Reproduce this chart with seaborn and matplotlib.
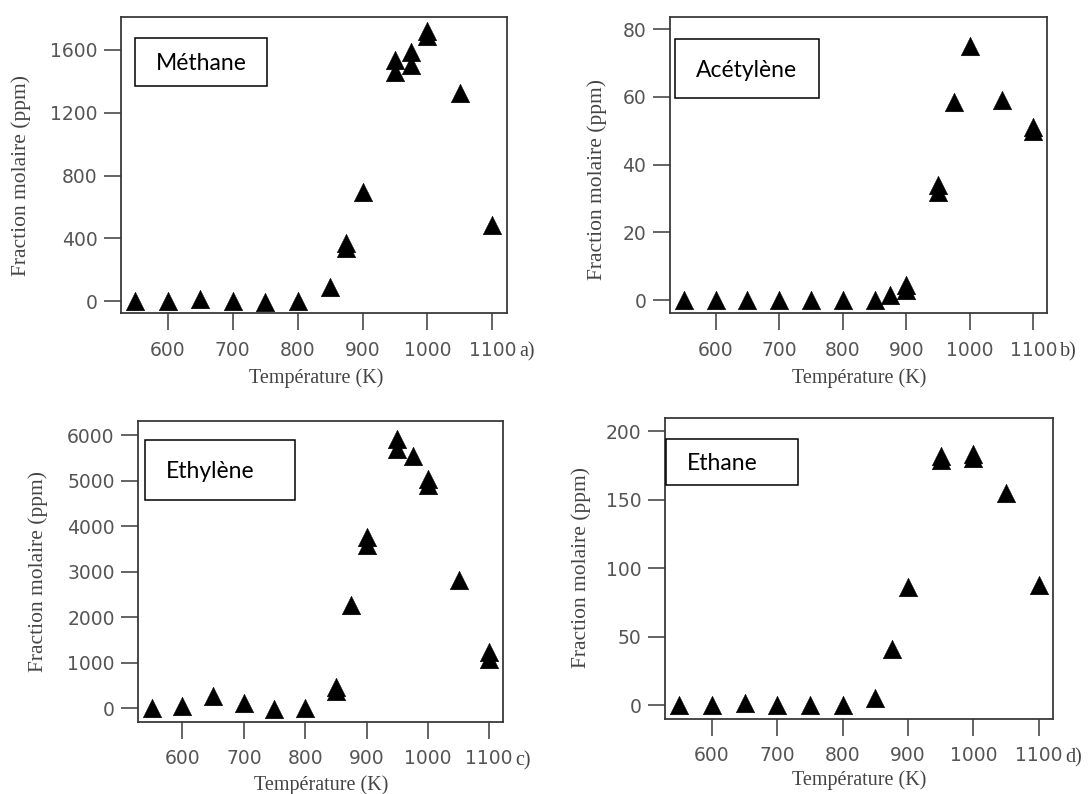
"""Mole fractions of light hydrocarbons versus temperature, four panels."""

import matplotlib

matplotlib.use("Agg")
import matplotlib.patches as mpatches
import matplotlib.pyplot as plt
import pandas as pd
import seaborn as sns

FIG_W, FIG_H = 1089, 794

# --- data ------------------------------------------------------------------
x_ticks = [600, 700, 800, 900, 1000, 1100]

temp_methane = [550, 600, 650, 700, 750, 800, 850, 875, 875, 900, 950, 950, 975, 975, 1000, 1000, 1050, 1100]
methane_ppm = [0, 0, 15, 0, -5, 0, 87, 335, 370, 697, 1461, 1536, 1504, 1589, 1690, 1720, 1328, 484]
methane_ticks = [0, 400, 800, 1200, 1600]

temp_acetylene = [550, 600, 650, 700, 750, 800, 850, 875, 900, 900, 950, 950, 975, 1000, 1050, 1100, 1100]
acetylene_ppm = [0, 0, 0, 0, 0, 0, 0, 1.5, 3, 4.5, 32, 34, 58.6, 75, 59, 50, 51]
acetylene_ticks = [0, 20, 40, 60, 80]

temp_ethylene = [550, 600, 650, 700, 750, 800, 850, 850, 875, 900, 900, 950, 950, 975, 1000, 1000, 1050, 1100, 1100]
ethylene_ppm = [0, 50, 270, 120, -20, 0, 380, 460, 2264, 3582, 3765, 5705, 5925, 5538, 4900, 5046, 2826, 1090, 1237]
ethylene_ticks = [0, 1000, 2000, 3000, 4000, 5000, 6000]

temp_ethane = [550, 600, 650, 700, 750, 800, 850, 875, 900, 950, 950, 1000, 1000, 1050, 1100]
ethane_ppm = [0, 0, 1.5, 0, 0, 0, 5, 41, 86, 179, 182, 180, 183, 155, 88]
ethane_ticks = [0, 50, 100, 150, 200]

species = ["Méthane", "Acétylène", "Ethylène", "Ethane"]
letters = ["a", "b", "c", "d"]

# --- layout (pixels in the 1089x794 picture) -------------------------------
panels = [
    dict(temps=temp_methane, ppm=methane_ppm, ticks=methane_ticks, ylim=(-76, 1810),
         frame=(121, 17, 506.7, 313), box=(135, 38.3, 266.6, 85.7),
         ylab=(21, 175), xlab=(316, 378)),
    dict(temps=temp_acetylene, ppm=acetylene_ppm, ticks=acetylene_ticks, ylim=(-3.9, 83.6),
         frame=(670, 17, 1047.3, 313.3), box=(674.6, 39, 818.5, 97.7),
         ylab=(597, 180), xlab=(859.6, 378)),
    dict(temps=temp_ethylene, ppm=ethylene_ppm, ticks=ethylene_ticks, ylim=(-290, 6314),
         frame=(138.3, 421, 502.7, 721.5), box=(145.3, 440.3, 294.8, 499.7),
         ylab=(38, 572), xlab=(321, 785)),
    dict(temps=temp_ethane, ppm=ethane_ppm, ticks=ethane_ticks, ylim=(-9.8, 209.7),
         frame=(665, 417.7, 1053, 718.7), box=(666, 438.7, 797.7, 485.3),
         ylab=(581.5, 568), xlab=(858.7, 780)),
]

sns.set_theme(style="white")
plt.rcParams["font.family"] = ["DejaVu Sans"]

TICK_GREY = "#555555"
LABEL_GREY = "#444444"
SPINE_GREY = "#3a3a3a"


def px_rect(left, top, right, bottom):
    return [left / FIG_W, 1 - bottom / FIG_H, (right - left) / FIG_W, (bottom - top) / FIG_H]


fig = plt.figure(figsize=(FIG_W / 100, FIG_H / 100), dpi=100)
fig.patch.set_facecolor("white")

for name, letter, panel in zip(species, letters, panels):
    left, top, right, bottom = panel["frame"]
    ax = fig.add_axes(px_rect(left, top, right, bottom))
    df = pd.DataFrame({"temperature": panel["temps"], "ppm": panel["ppm"]})
    sns.scatterplot(data=df, x="temperature", y="ppm", marker="^", s=180,
                    color="black", edgecolor="black", linewidth=0.3, ax=ax, zorder=3)

    ax.set_xlim(528, 1122)
    ax.set_ylim(*panel["ylim"])
    ax.set_xticks(x_ticks)
    ax.set_yticks(panel["ticks"])
    ax.set_xticklabels([str(t) for t in x_ticks])
    ax.set_yticklabels([str(t) for t in panel["ticks"]])

    for spine in ax.spines.values():
        spine.set_color(SPINE_GREY)
        spine.set_linewidth(1.3)
    ax.tick_params(axis="both", direction="out", length=12, width=1.1, color=SPINE_GREY,
                   labelcolor=TICK_GREY, labelsize=13.5, left=True, bottom=True)
    ax.tick_params(axis="x", pad=8)
    ax.tick_params(axis="y", pad=5)

    width_px, height_px = right - left, bottom - top
    ax.set_xlabel("Température (K)", family="Liberation Serif", fontsize=14.5, color=LABEL_GREY)
    ax.set_ylabel("Fraction molaire (ppm)", family="Liberation Serif", fontsize=15.5, color=LABEL_GREY)
    ax.xaxis.label.set(va="center", ha="center")
    ax.yaxis.label.set(va="center", ha="center")
    ax.xaxis.set_label_coords((panel["xlab"][0] - left) / width_px, (bottom - panel["xlab"][1]) / height_px)
    ax.yaxis.set_label_coords((panel["ylab"][0] - left) / width_px, (bottom - panel["ylab"][1]) / height_px)

    ax.annotate(f"{letter})", xy=(1100, 0), xycoords=ax.get_xaxis_transform(),
                xytext=(19, -28), textcoords="offset points", ha="left", va="center",
                family="Liberation Serif", fontsize=14.5, color=LABEL_GREY)

    # the species name sits in a framed text box on top of the plot
    bx0, by0, bx1, by1 = panel["box"]
    fig.patches.append(mpatches.Rectangle((bx0 / FIG_W, 1 - by1 / FIG_H), (bx1 - bx0) / FIG_W,
                                          (by1 - by0) / FIG_H, transform=fig.transFigure,
                                          facecolor="white", edgecolor="black", linewidth=1.1, zorder=5))
    fig.text((bx0 + 21) / FIG_W, 1 - ((by0 + by1) / 2 + 2) / FIG_H, name, ha="left", va="center",
             family="Lato", fontsize=16.5, color="black", zorder=6)

fig.savefig("out.png", dpi=100, facecolor="white")
